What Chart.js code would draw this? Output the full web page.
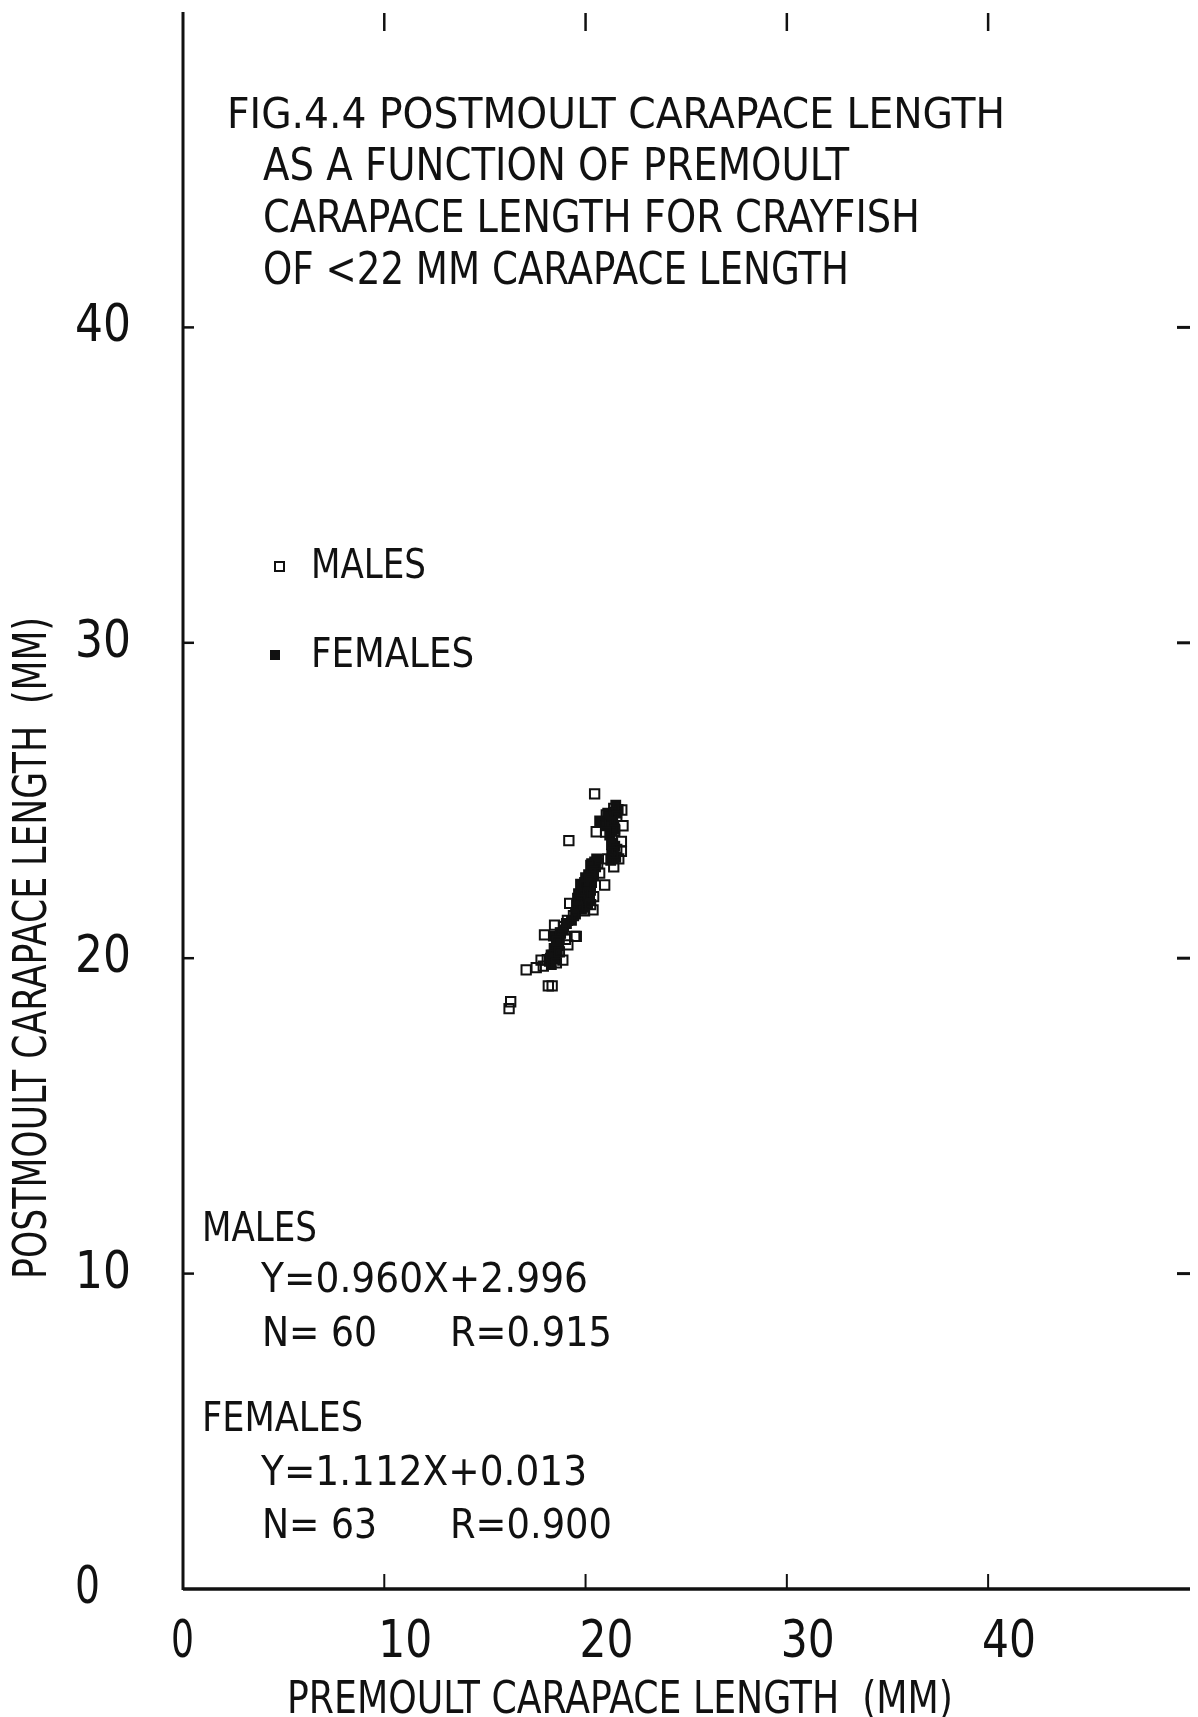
<!DOCTYPE html>
<html>
<head>
<meta charset="utf-8">
<script src="https://cdn.jsdelivr.net/npm/chart.js@4"></script>
<style>
  html, body { margin: 0; padding: 0; background: #fff; }
  canvas { display: block; }
</style>
</head>
<body>
<canvas id="graficoMuda" width="1198" height="1717"></canvas>
<script>
// comprimento da carapaca antes (x) e depois (y) da muda, em mm
const machosPre = [20.45, 21.03, 21.80, 21.86, 20.53, 19.17, 21.78, 21.78, 21.65, 21.40,
    20.95, 20.40, 20.37, 20.04, 19.21, 18.46, 17.96, 19.46, 19.54, 19.12,
    17.79, 18.87, 17.05, 18.34, 18.15, 16.28, 16.20, 21.40, 21.55, 21.20,
    21.45, 21.30, 21.55, 21.10, 20.60, 20.35, 20.20, 20.00, 19.85, 20.15,
    19.70, 19.95, 20.25, 19.60, 19.40, 19.10, 18.90, 18.75, 18.60, 18.45,
    18.30, 18.10, 18.55, 17.90, 17.55, 18.70, 19.00, 20.70, 21.35, 21.00];
const machosPos = [25.21, 24.54, 24.70, 24.20, 24.01, 23.73, 23.70, 23.39, 23.15, 22.90,
    22.32, 21.95, 21.53, 21.74, 21.74, 21.05, 20.74, 20.69, 20.69, 20.42,
    19.94, 19.94, 19.63, 19.12, 19.12, 18.62, 18.40, 24.75, 24.50, 24.30,
    24.05, 23.60, 23.45, 23.15, 23.00, 22.75, 22.50, 22.30, 22.05, 22.05,
    21.85, 21.50, 21.70, 21.60, 21.35, 21.20, 21.00, 20.80, 20.55, 20.30,
    20.10, 19.95, 19.85, 19.75, 19.70, 20.20, 20.60, 22.70, 23.35, 24.00];

const femeasPre = [21.50, 21.62, 21.40, 21.25, 21.55, 21.35, 21.30, 21.20, 21.45, 21.38,
    21.30, 21.50, 21.45, 21.25, 20.45, 20.35, 20.15, 19.95, 19.80, 19.90,
    19.70, 19.90, 20.05, 20.25, 20.10, 19.60, 19.75, 20.00, 20.30, 20.20,
    19.85, 20.40, 19.65, 20.10, 19.55, 20.30, 20.50, 19.95, 20.15, 19.80,
    19.05, 18.75, 18.55, 18.45, 18.35, 18.50, 18.20, 18.65, 18.40, 18.60,
    18.30, 18.45, 18.70, 20.70, 21.00, 21.10, 21.35, 20.55, 20.25, 19.50,
    19.30, 18.90, 18.25];
const femeasPos = [24.85, 24.72, 24.62, 24.50, 24.60, 24.40, 24.02, 23.90, 24.10, 23.45,
    23.30, 23.20, 23.55, 23.10, 23.05, 22.85, 22.65, 22.40, 22.20, 22.00,
    21.80, 21.62, 21.90, 22.15, 21.70, 21.90, 22.35, 22.55, 22.40, 21.85,
    21.75, 22.60, 22.05, 22.25, 21.70, 23.00, 22.90, 21.95, 22.45, 21.55,
    21.10, 20.80, 20.55, 20.30, 20.10, 19.98, 19.90, 20.40, 20.70, 20.20,
    19.80, 20.05, 20.60, 24.35, 24.20, 24.60, 23.65, 23.15, 22.95, 21.40,
    21.20, 20.90, 20.00];

const ticksX = [0, 10, 20, 30, 40];
const ticksY = [0, 10, 20, 30, 40];

const tituloLinhas = ['FIG.4.4 POSTMOULT CARAPACE LENGTH', 'AS A FUNCTION OF PREMOULT',
    'CARAPACE LENGTH FOR CRAYFISH', 'OF <22 MM CARAPACE LENGTH'];
const legendaTextos = ['MALES', 'FEMALES'];
const estatMachos = ['MALES', 'Y=0.960X+2.996', 'N= 60', 'R=0.915'];
const estatFemeas = ['FEMALES', 'Y=1.112X+0.013', 'N= 63', 'R=0.900'];
const tituloX = 'PREMOULT CARAPACE LENGTH  (MM)';
const tituloY = 'POSTMOULT CARAPACE LENGTH  (MM)';

function juntar(xs, ys) {
    return xs.map((x, i) => ({ x: x, y: ys[i] }));
}

const FONTE = '"Liberation Sans Narrow", "DejaVu Sans Condensed", sans-serif';

// escreve o texto com altura de maiuscula e largura fixas
function texto(ctx, str, x, base, alt, larg) {
    ctx.font = `${alt / 0.72}px ${FONTE}`;
    const w = ctx.measureText(str).width;
    ctx.save();
    ctx.translate(x, base);
    ctx.scale(larg / w, 1);
    ctx.textAlign = 'left';
    ctx.textBaseline = 'alphabetic';
    ctx.fillStyle = '#111';
    ctx.fillText(str, 0, 0);
    ctx.restore();
}

function linha(ctx, x1, y1, x2, y2, esp) {
    ctx.lineWidth = esp;
    ctx.beginPath();
    ctx.moveTo(x1, y1);
    ctx.lineTo(x2, y2);
    ctx.stroke();
}

// eixos e marcas de escala, desenhados antes dos pontos
const eixosPlugin = {
    id: 'eixos',
    beforeDatasetsDraw(chart) {
        const ctx = chart.ctx;
        const area = chart.chartArea;
        const sx = chart.scales.x;
        const sy = chart.scales.y;
        ctx.save();
        ctx.strokeStyle = '#111';
        ctx.lineCap = 'butt';
        linha(ctx, area.left, area.top, area.left, area.bottom + 1, 3);
        linha(ctx, area.left, area.bottom, 1190, area.bottom, 3.5);
        ticksX.forEach(v => {
            if (v === 0) return;
            const px = sx.getPixelForValue(v);
            linha(ctx, px, area.bottom, px, area.bottom - 15, 2);
            linha(ctx, px, 13, px, 31, 2.5);
        });
        ticksY.forEach(v => {
            if (v === 0) return;
            const py = sy.getPixelForValue(v);
            linha(ctx, area.left, py, area.left + 11, py, 2.5);
            linha(ctx, 1177, py, 1190, py, 3);
        });
        ctx.restore();
    },
    afterDraw(chart) {
        const ctx = chart.ctx;
        const sx = chart.scales.x;
        const sy = chart.scales.y;

        ticksX.forEach(v => {
            const s = String(v);
            const px = sx.getPixelForValue(v);
            texto(ctx, s, px - (s.length === 1 ? 12 : 6), 1657, 37, s.length === 1 ? 23 : 54);
        });
        ticksY.forEach(v => {
            const s = String(v);
            const py = sy.getPixelForValue(v);
            texto(ctx, s, 75, py + 14, 37, s.length === 1 ? 25 : 56);
        });

        // titulo da figura
        texto(ctx, tituloLinhas[0], 227, 128, 31, 778);
        texto(ctx, tituloLinhas[1], 263, 180, 32, 586);
        texto(ctx, tituloLinhas[2], 263, 232, 32, 657);
        texto(ctx, tituloLinhas[3], 263, 284, 32, 586);

        // legenda
        ctx.save();
        ctx.strokeStyle = '#111';
        ctx.lineWidth = 2;
        ctx.strokeRect(275, 562, 9, 9);
        ctx.fillStyle = '#111';
        ctx.fillRect(270, 650, 10, 10);
        ctx.restore();
        texto(ctx, legendaTextos[0], 311, 578, 30, 115);
        texto(ctx, legendaTextos[1], 311, 667, 30, 163);

        // regressoes
        texto(ctx, estatMachos[0], 202, 1241, 29, 115);
        texto(ctx, estatMachos[1], 261, 1292, 29, 327);
        texto(ctx, estatMachos[2], 262, 1346, 29, 115);
        texto(ctx, estatMachos[3], 450, 1346, 29, 162);
        texto(ctx, estatFemeas[0], 202, 1431, 29, 161);
        texto(ctx, estatFemeas[1], 261, 1485, 29, 326);
        texto(ctx, estatFemeas[2], 262, 1538, 29, 115);
        texto(ctx, estatFemeas[3], 450, 1538, 29, 162);

        // titulos dos eixos
        texto(ctx, tituloX, 287, 1713, 32, 666);
        ctx.save();
        ctx.translate(46, 1279);
        ctx.rotate(-Math.PI / 2);
        texto(ctx, tituloY, 0, 0, 33, 662);
        ctx.restore();
    }
};

new Chart(document.getElementById('graficoMuda'), {
    type: 'scatter',
    data: {
        datasets: [{
            label: 'MALES',
            data: juntar(machosPre, machosPos),
            pointStyle: 'rect',
            pointRadius: 6.6,
            borderWidth: 2,
            borderColor: '#111',
            backgroundColor: 'rgba(255,255,255,0)'
        }, {
            label: 'FEMALES',
            data: juntar(femeasPre, femeasPos),
            pointStyle: 'rect',
            pointRadius: 6.6,
            borderWidth: 1.5,
            borderColor: '#111',
            backgroundColor: '#111'
        }]
    },
    options: {
        responsive: false,
        animation: false,
        layout: { padding: { left: 183, right: 4, top: 12, bottom: 128 } },
        scales: {
            x: { type: 'linear', min: 0, max: 50, display: false },
            y: { type: 'linear', min: 0, max: 50, display: false }
        },
        plugins: {
            legend: { display: false },
            tooltip: { enabled: false }
        }
    },
    plugins: [eixosPlugin]
});
</script>
</body>
</html>
